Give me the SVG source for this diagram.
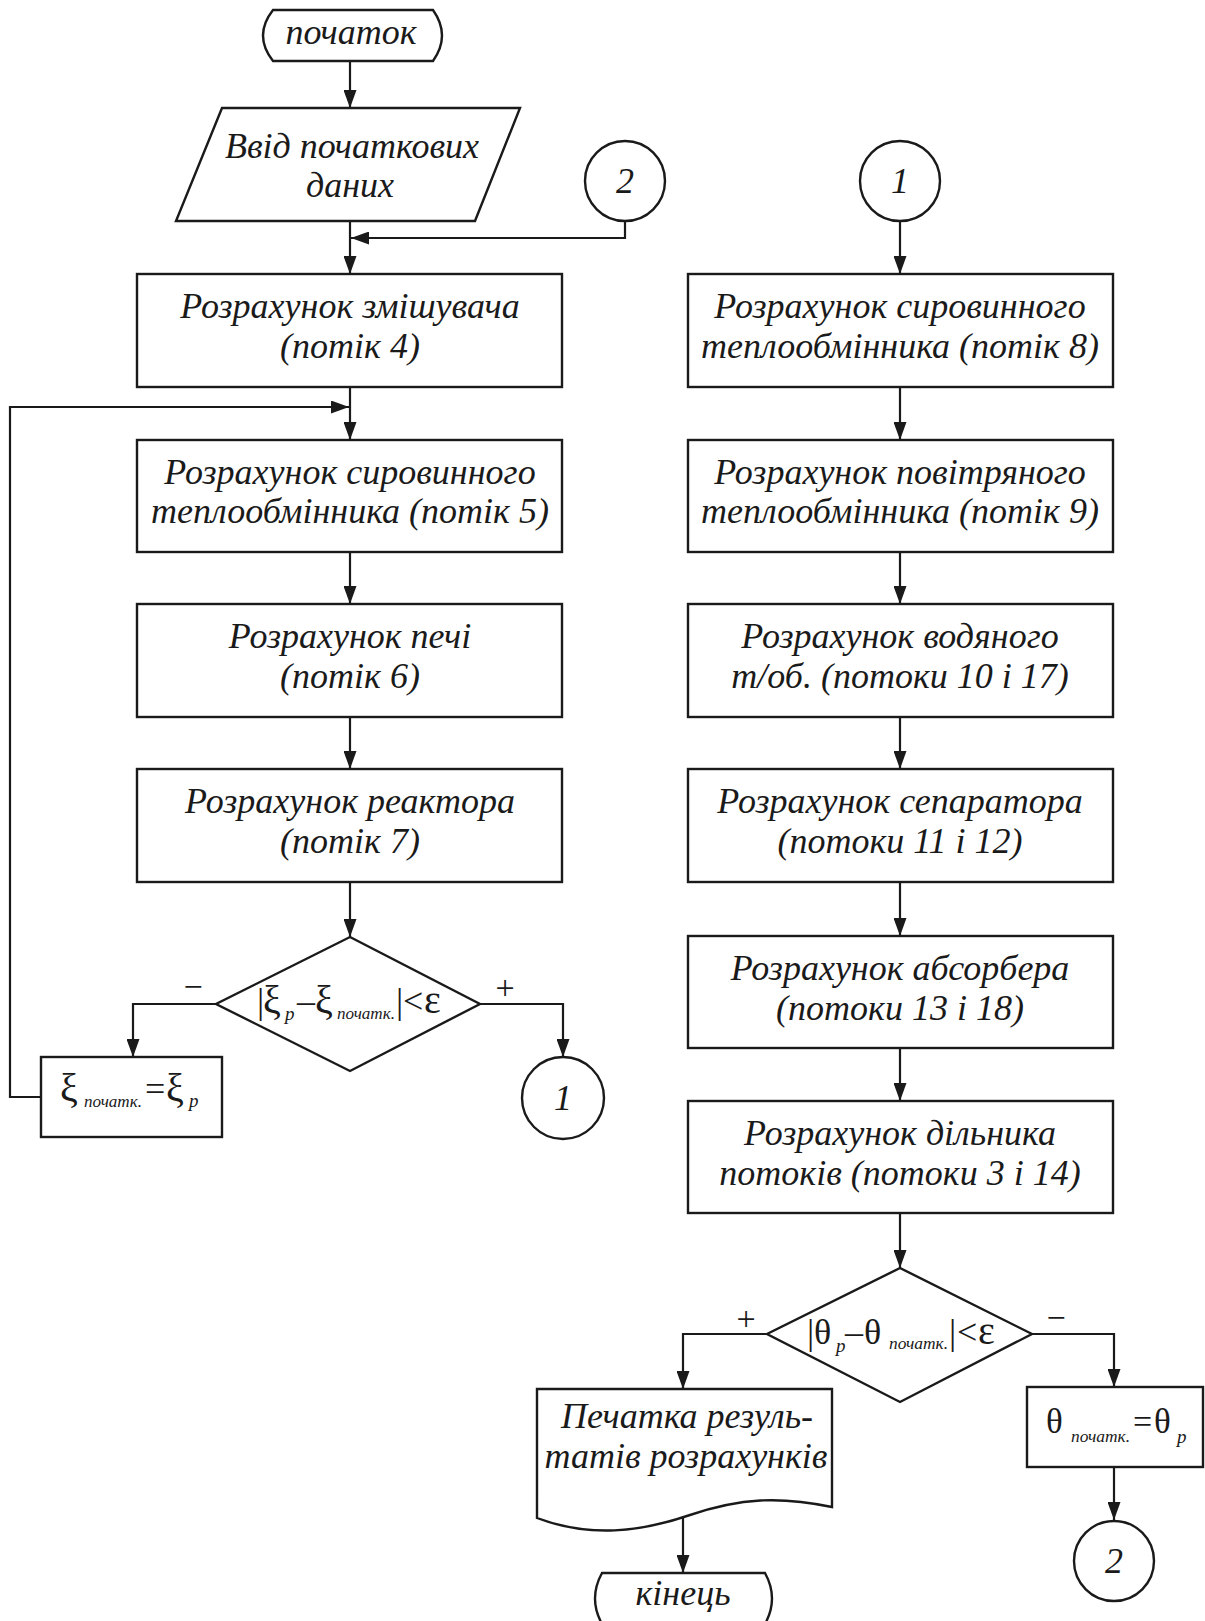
<svg xmlns="http://www.w3.org/2000/svg" width="1205" height="1621" viewBox="0 0 1205 1621">
  <defs>
    <marker id="arrow" markerUnits="userSpaceOnUse" markerWidth="18" markerHeight="13" refX="18" refY="6.5" orient="auto">
      <path d="M0,0 L18,6.5 L0,13 z" fill="#1a1a1a"/>
    </marker>
    <style>
      .shape { fill: #fff; stroke: #1a1a1a; stroke-width: 2.4; }
      .wire-a { fill: none; stroke: #1a1a1a; stroke-width: 2.2; marker-end: url(#arrow); }
      .t { font-family: "Liberation Serif", "Times New Roman", serif; font-style: italic; font-size: 36px; fill: #1a1a1a; text-anchor: middle; }
      .num { font-family: "Liberation Serif", "Times New Roman", serif; font-style: italic; font-size: 36px; fill: #1a1a1a; text-anchor: middle; }
      .sym { font-family: "Liberation Serif", "Times New Roman", serif; font-size: 36px; fill: #1a1a1a; }
      .big { font-size: 40px; }
      .sub { font-family: "Liberation Serif", "Times New Roman", serif; font-style: italic; font-size: 17px; fill: #1a1a1a; }
      .subp { font-family: "Liberation Serif", "Times New Roman", serif; font-style: italic; font-size: 19px; fill: #1a1a1a; }
      .sign { font-family: "Liberation Serif", "Times New Roman", serif; font-size: 34px; fill: #1a1a1a; text-anchor: middle; }
    </style>
  </defs>

  <rect width="1205" height="1621" fill="#fff"/>

  <!-- connectors -->
  <g id="connectors">
    <path class="wire-a" d="M350,61 V108"/>
    <path class="wire-a" d="M350,221 V274"/>
    <path class="wire-a" d="M625,221 V238 H351"/>
    <path class="wire-a" d="M350,387 V440"/>
    <path class="wire-a" d="M41,1097 H10 V407 H349"/>
    <path class="wire-a" d="M350,552 V604"/>
    <path class="wire-a" d="M350,717 V769"/>
    <path class="wire-a" d="M350,882 V937"/>
    <path class="wire-a" d="M216,1004 H133 V1057"/>
    <path class="wire-a" d="M480,1004 H563 V1057"/>

    <path class="wire-a" d="M900,222 V274"/>
    <path class="wire-a" d="M900,387 V440"/>
    <path class="wire-a" d="M900,552 V604"/>
    <path class="wire-a" d="M900,717 V769"/>
    <path class="wire-a" d="M900,882 V936"/>
    <path class="wire-a" d="M900,1048 V1101"/>
    <path class="wire-a" d="M900,1213 V1268"/>
    <path class="wire-a" d="M767,1334 H683 V1389"/>
    <path class="wire-a" d="M1032,1334 H1114 V1387"/>
    <path class="wire-a" d="M1114,1467 V1520"/>
    <path class="wire-a" d="M683,1517 V1573"/>
  </g>

  <!-- left branch -->
  <g id="start">
    <path class="shape" d="M273,10 H433 Q451,35.5 433,61 H273 Q253,35.5 273,10 Z"/>
    <text class="t" x="351" y="44">початок</text>
  </g>

  <g id="input">
    <path class="shape" d="M222,108 H520 L475,221 H176 Z"/>
    <text class="t" x="352" y="158">Ввід початкових</text>
    <text class="t" x="350" y="197">даних</text>
  </g>

  <g id="conn-2-in">
    <circle class="shape" cx="625" cy="181" r="40"/>
    <text class="num" x="625" y="193">2</text>
  </g>

  <g id="mixer">
    <rect class="shape" x="137" y="274" width="425" height="113"/>
    <text class="t" x="350" y="318">Розрахунок змішувача</text>
    <text class="t" x="350" y="358">(потік 4)</text>
  </g>

  <g id="feed-hx">
    <rect class="shape" x="137" y="440" width="425" height="112"/>
    <text class="t" x="350" y="484">Розрахунок сировинного</text>
    <text class="t" x="350" y="523">теплообмінника (потік 5)</text>
  </g>

  <g id="furnace">
    <rect class="shape" x="137" y="604" width="425" height="113"/>
    <text class="t" x="350" y="648">Розрахунок печі</text>
    <text class="t" x="350" y="688">(потік 6)</text>
  </g>

  <g id="reactor">
    <rect class="shape" x="137" y="769" width="425" height="113"/>
    <text class="t" x="350" y="813">Розрахунок реактора</text>
    <text class="t" x="350" y="853">(потік 7)</text>
  </g>

  <g id="check-xi">
    <path class="shape" d="M350,937 L480,1004 L350,1071 L216,1004 Z"/>
    <text class="sym" x="257" y="1013">|</text>
    <text class="sym big" x="263" y="1013">ξ</text>
    <text class="subp" x="285" y="1020">p</text>
    <text class="sym" x="297" y="1013">–</text>
    <text class="sym big" x="315" y="1013">ξ</text>
    <text class="sub" x="337" y="1019" textLength="58" lengthAdjust="spacingAndGlyphs">початк.</text>
    <text class="sym" x="396" y="1013">|</text>
    <text class="sym" x="403" y="1013">&lt;</text>
    <text class="sym big" x="424" y="1013">ε</text>
    <text class="sign" x="193" y="998">−</text>
    <text class="sign" x="505" y="999">+</text>
  </g>

  <g id="xi-update">
    <rect class="shape" x="41" y="1057" width="181" height="80"/>
    <text class="sym big" x="60" y="1101">ξ</text>
    <text class="sub" x="84" y="1107" textLength="58" lengthAdjust="spacingAndGlyphs">початк.</text>
    <text class="sym" x="145" y="1101">=</text>
    <text class="sym big" x="166" y="1101">ξ</text>
    <text class="subp" x="189" y="1107">p</text>
  </g>

  <g id="conn-1-out">
    <circle class="shape" cx="563" cy="1098" r="41"/>
    <text class="num" x="563" y="1110">1</text>
  </g>

  <!-- right branch -->
  <g id="conn-1-in">
    <circle class="shape" cx="900" cy="181" r="40"/>
    <text class="num" x="900" y="193">1</text>
  </g>

  <g id="feed-hx-2">
    <rect class="shape" x="688" y="274" width="425" height="113"/>
    <text class="t" x="900" y="318">Розрахунок сировинного</text>
    <text class="t" x="900" y="358">теплообмінника (потік 8)</text>
  </g>

  <g id="air-hx">
    <rect class="shape" x="688" y="440" width="425" height="112"/>
    <text class="t" x="900" y="484">Розрахунок повітряного</text>
    <text class="t" x="900" y="523">теплообмінника (потік 9)</text>
  </g>

  <g id="water-hx">
    <rect class="shape" x="688" y="604" width="425" height="113"/>
    <text class="t" x="900" y="648">Розрахунок водяного</text>
    <text class="t" x="900" y="688">т/об. (потоки 10 і 17)</text>
  </g>

  <g id="separator">
    <rect class="shape" x="688" y="769" width="425" height="113"/>
    <text class="t" x="900" y="813">Розрахунок сепаратора</text>
    <text class="t" x="900" y="853">(потоки 11 і 12)</text>
  </g>

  <g id="absorber">
    <rect class="shape" x="688" y="936" width="425" height="112"/>
    <text class="t" x="900" y="980">Розрахунок абсорбера</text>
    <text class="t" x="900" y="1020">(потоки 13 і 18)</text>
  </g>

  <g id="splitter">
    <rect class="shape" x="688" y="1101" width="425" height="112"/>
    <text class="t" x="900" y="1145">Розрахунок дільника</text>
    <text class="t" x="900" y="1185">потоків (потоки 3 і 14)</text>
  </g>

  <g id="check-theta">
    <path class="shape" d="M900,1268 L1032,1334 L900,1402 L767,1334 Z"/>
    <text class="sym" x="807" y="1344">|</text>
    <text class="sym" x="814" y="1344">θ</text>
    <text class="subp" x="836" y="1352">p</text>
    <text class="sym" x="845" y="1344">–</text>
    <text class="sym" x="864" y="1344">θ</text>
    <text class="sub" x="889" y="1349" textLength="59" lengthAdjust="spacingAndGlyphs">початк.</text>
    <text class="sym" x="949" y="1344">|</text>
    <text class="sym" x="957" y="1344">&lt;</text>
    <text class="sym big" x="978" y="1344">ε</text>
    <text class="sign" x="746" y="1330">+</text>
    <text class="sign" x="1056" y="1329">−</text>
  </g>

  <g id="report">
    <path class="shape" d="M537,1389 H832 V1507 C780,1496 740,1498 690,1515 C640,1532 590,1538 537,1518 Z"/>
    <text class="t" x="687" y="1428">Печатка резуль-</text>
    <text class="t" x="686" y="1468">татів розрахунків</text>
  </g>

  <g id="end">
    <path class="shape" d="M602,1573 H765 Q779,1598.5 765,1624 H602 Q588,1598.5 602,1573 Z"/>
    <text class="t" x="683" y="1605">кінець</text>
  </g>

  <g id="theta-update">
    <rect class="shape" x="1027" y="1387" width="176" height="80"/>
    <text class="sym" x="1046" y="1433" style="font-size:35px">θ</text>
    <text class="sub" x="1071" y="1442" textLength="59" lengthAdjust="spacingAndGlyphs">початк.</text>
    <text class="sym" x="1133" y="1433" style="font-size:34px">=</text>
    <text class="sym" x="1154" y="1433" style="font-size:35px">θ</text>
    <text class="subp" x="1177" y="1443">p</text>
  </g>

  <g id="conn-2-out">
    <circle class="shape" cx="1114" cy="1561" r="40"/>
    <text class="num" x="1114" y="1573">2</text>
  </g>
</svg>
